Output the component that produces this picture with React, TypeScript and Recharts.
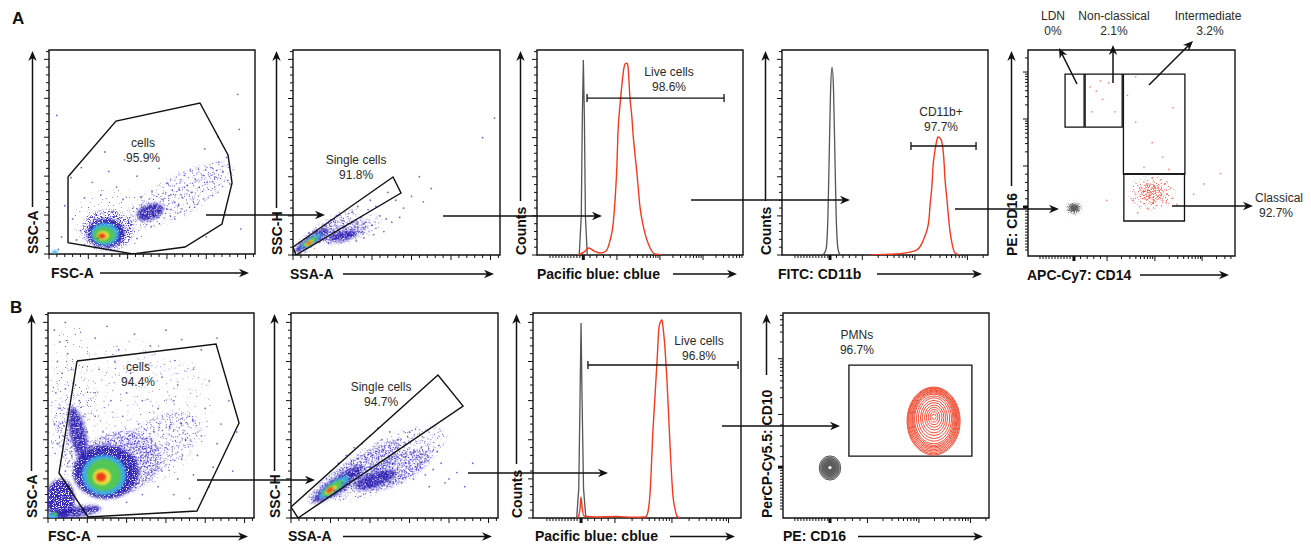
import React from "react";
import { ComposedChart, ScatterChart, Scatter, Line, XAxis, YAxis, ReferenceArea } from "recharts";

const FONT = "'Liberation Sans', Arial, Helvetica, sans-serif";
const INK = "#111";
const BLUE_DOT = "#3b2fc9";
const RED = "#f23a1e";
const GREY = "#555";

// ---------- data: panel A1 (FSC-A / SSC-A, linear 0-262K) ----------
const a1Gate = [[24.2, 99.3], [85.2, 170.8], [192, 193.9], [227.7, 127.1], [232.8, 91.2], [220, 38.5], [173, 9], [106.8, 0], [24.2, 14.5], [24.2, 99.3]];
const a1Density = [
  [166.6, 75.8, 76, 25.7, -28, "sparse"],
  [80, 45, 50, 40, 0, "faint"],
  [75, 30.8, 33, 26, 0, "haze"],
  [128.5, 53.9, 18, 10, -20, "dense"],
  [72.5, 27, 24, 19, 0, "dense"],
  [71.2, 25.7, 17.8, 14, 0, "cyan"],
  [70, 24.4, 14, 10.3, 0, "green"],
  [68.7, 23.8, 7.6, 5.8, 0, "yellow"],
  [67.4, 23.1, 4.5, 3.2, 0, "red"],
  [7.6, 2.6, 3.8, 2.6, 0, "cyan"],
];
const a1Dots = [[45, 12], [52, 40], [58, 8], [88, 45], [95, 15], [100, 32], [40, 30], [82, 55], [60, 50], [105, 42], [112, 20], [35, 18], [30, 45], [118, 60], [124, 48], [135, 62], [140, 47], [145, 70], [150, 58], [155, 76], [160, 66], [166, 82], [170, 72], [176, 88], [181, 79], [186, 96], [191, 86], [196, 101], [201, 92], [206, 111], [211, 99], [216, 118], [221, 106], [226, 124], [117, 73], [131, 81], [151, 91], [172, 101], [45, 72], [55, 92], [66, 76], [76, 106], [86, 86], [96, 121], [41, 111], [71, 131], [12, 6], [16, 22], [242, 160], [244, 32], [200, 22], [10, 178], [240, 205], [130, 35], [160, 45], [185, 60], [208, 75], [230, 90], [28, 98], [20, 62], [112, 100], [140, 110], [198, 135], [215, 150], [94, 70], [62, 20], [75, 8]];

// ---------- panel A2 (SSA-A / SSC-H) ----------
const a2Gate = [[0, 10.2], [126.6, 99.7], [136.7, 79.2], [3.8, 0], [0, 10.2]];
const a2Density = [
  [40, 30, 50, 12, -35, "sparse"],
  [75, 32, 40, 14, -20, "sparse"],
  [31.6, 25.6, 36, 7.7, -35, "haze"],
  [65.8, 29.4, 30, 10.2, -20, "haze"],
  [24, 19.2, 25.3, 5.1, -35, "dense"],
  [63.3, 24.3, 17.7, 5.8, -12, "dense"],
  [22.8, 17.9, 16.5, 3.8, -35, "cyan"],
  [21.5, 16.6, 11.4, 2.9, -35, "green"],
  [20.3, 15.3, 6.3, 2.3, -35, "yellow"],
  [20.3, 15.3, 3.8, 1.7, -35, "red"],
];
const a2Dots = [[40, 38], [48, 45], [55, 50], [62, 44], [70, 40], [78, 36], [85, 48], [92, 42], [100, 38], [110, 50], [118, 46], [75, 55], [88, 30], [95, 58], [105, 62], [130, 70], [140, 60], [160, 100], [175, 85], [30, 30], [35, 20], [45, 15], [80, 18], [90, 22], [52, 30], [115, 30], [125, 42], [68, 28], [58, 22], [150, 75], [255, 175], [240, 150], [20, 28], [14, 10], [102, 26], [135, 48], [165, 68], [120, 80], [98, 70], [82, 62]];

// ---------- panel A3 (Pacific blue histogram, % of max) ----------
const a3Control = [[20.5, 0], [21.5, 20], [22, 70], [22.5, 99.7], [23, 70], [23.5, 20], [24.4, 0]];
const a3Sample = [[19.9, 0], [22.8, 1.5], [25.2, 3.6], [27.7, 2], [30.6, 1], [33.5, 2], [35.4, 7.2], [36.9, 15.3], [37.9, 28.1], [38.8, 46], [39.3, 62.3], [40.3, 76.7], [41.3, 87.9], [42.2, 95.6], [42.7, 97.6], [43.7, 98.1], [44.2, 96.1], [45.1, 80.7], [46.1, 70], [46.6, 62.3], [47.6, 51.1], [48.5, 41.9], [50, 24.5], [51.5, 15.3], [52.4, 11.2], [53.9, 6.1], [54.9, 3.6], [57.3, 0.5], [60.7, 0]];
const a3Gate = [[24.3, 80.2], [90.8, 80.2]];

// ---------- panel A4 (FITC: CD11b histogram) ----------
const a4Control = [[19.9, 0], [21.4, 3], [22.3, 20], [23, 55], [23.6, 85], [24.3, 96], [25, 85], [25.6, 55], [26.3, 20], [27.2, 3], [28.2, 0]];
const a4Sample = [[42.7, 0], [54.9, 0.5], [62.1, 1.5], [65.5, 2.6], [68, 6.1], [69.4, 9.7], [70.4, 12.8], [71.4, 18.9], [71.8, 24.5], [72.8, 35.8], [73.3, 45], [74.3, 53.7], [75.2, 58.8], [75.7, 60.3], [76.7, 59.8], [77.7, 57.2], [78.6, 48.5], [79.1, 39.3], [80.1, 28.1], [80.6, 22], [81.6, 11.8], [82.5, 6.1], [84, 1], [86.4, 0]];
const a4Gate = [[62.6, 55.7], [94.2, 55.7]];

// ---------- panel A5 (APC-Cy7: CD14 / PE: CD16, biex 0-1000) ----------
const a5Boxes = [[179, 271, 626, 883], [276, 455, 626, 883], [461, 758, 398, 883], [463, 756, 170, 398]];
const a5Density = [
  [599, 306, 110, 82, 0, "redsparse"],
  [599, 306, 60, 46, 0, "reddense"],
  [222, 233, 36, 31, 0, "graysparse"],
  [222, 233, 26, 21, 0, "gray"],
  [222, 233, 17, 14, 0, "graysolid"],
];
const a5Dots = [[520, 300], [540, 330], [560, 280], [575, 350], [590, 310], [600, 260], [610, 340], [620, 295], [635, 320], [650, 270], [660, 350], [540, 240], [580, 230], [620, 245], [670, 300], [690, 330], [505, 270], [560, 360], [600, 380], [640, 370], [700, 280], [530, 210], [720, 250], [600, 330], [585, 290], [615, 315], [565, 315], [645, 300], [595, 300], [605, 285], [578, 322], [628, 335], [552, 300], [668, 262], [612, 268], [590, 345], [300, 820], [330, 800], [360, 760], [390, 840], [420, 700], [350, 850], [310, 700], [480, 780], [520, 650], [600, 550], [650, 480], [700, 720], [560, 430], [680, 420], [520, 870], [800, 300], [930, 400], [850, 350], [380, 270]];

// ---------- panel B1 ----------
const b1Gate = [[36.9, 200.6], [213.7, 222.4], [243, 121.4], [189.5, 8.9], [50.9, 1.3], [14, 57.5], [36.9, 200.6]];
const b1Density = [
  [100, 130, 110, 95, -20, "faint"],
  [30, 150, 30, 100, 0, "faint"],
  [140, 95, 60, 32, -30, "sparse"],
  [90, 70, 55, 40, -15, "haze"],
  [38, 108, 10, 34, -12, "dense"],
  [32, 100, 20, 50, -12, "sparse"],
  [16, 24, 18, 26, 0, "dense"],
  [34.3, 7.7, 34, 7, -8, "dense"],
  [73.8, 58.8, 42, 34.5, 0, "dense"],
  [71.2, 55, 28, 25.6, 0, "cyan"],
  [71.2, 55, 21.6, 20.4, 0, "green"],
  [68.7, 52.4, 11.4, 10.2, 0, "yellow"],
  [67.4, 52.4, 6.4, 5.8, 0, "red"],
  [6.4, 2.6, 6.4, 3.8, 0, "cyan"],
  [8.9, 5.1, 3.2, 2.6, 0, "green"],
];
const b1Dots = [[8, 240], [15, 225], [22, 250], [12, 200], [25, 210], [18, 185], [30, 190], [10, 160], [22, 165], [35, 170], [14, 140], [28, 145], [40, 150], [8, 120], [20, 118], [33, 125], [45, 130], [12, 95], [26, 100], [38, 105], [50, 110], [18, 80], [30, 85], [42, 88], [55, 92], [22, 60], [35, 70], [48, 72], [60, 230], [75, 245], [90, 215], [110, 235], [130, 220], [150, 240], [170, 228], [195, 215], [215, 230], [65, 190], [85, 200], [105, 185], [125, 195], [145, 180], [165, 170], [185, 190], [205, 175], [60, 160], [80, 150], [100, 160], [120, 150], [140, 140], [160, 150], [180, 130], [200, 140], [220, 120], [95, 130], [115, 120], [135, 110], [155, 115], [175, 100], [195, 105], [215, 95], [110, 95], [130, 85], [150, 90], [170, 75], [190, 80], [210, 65], [125, 70], [145, 60], [165, 50], [185, 55], [205, 40], [140, 40], [160, 30], [180, 25], [120, 30], [100, 20], [230, 150], [240, 110], [235, 60], [60, 130], [70, 110], [90, 90]];

// ---------- panel B2 ----------
const b2Gate = [[0, 14], [186, 182.8], [217.8, 143.1], [8.9, 0], [0, 14]];
const b2Density = [
  [120, 70, 85, 30, -28, "sparse"],
  [81, 58.8, 69.6, 15.3, -33, "haze"],
  [131.7, 61.3, 50.6, 17.9, -25, "haze"],
  [59.5, 43.5, 38, 8.9, -35, "dense"],
  [106.3, 48.6, 27.8, 8.9, -20, "dense"],
  [54.4, 39.6, 22.8, 6.4, -35, "cyan"],
  [53.2, 38.3, 16.5, 5.1, -35, "green"],
  [50.6, 35.8, 8.9, 3.2, -35, "yellow"],
  [49.4, 35.8, 5.1, 2.6, -35, "red"],
];
const b2Dots = [[60, 70], [70, 80], [80, 90], [90, 95], [100, 105], [110, 115], [75, 60], [95, 75], [115, 85], [120, 60], [130, 70], [140, 80], [150, 65], [160, 75], [170, 55], [180, 62], [190, 70], [200, 50], [210, 58], [140, 45], [155, 50], [125, 45], [105, 55], [85, 50], [65, 45], [115, 100], [125, 110], [135, 100], [145, 95], [165, 90], [175, 40], [195, 45], [220, 40], [230, 70], [100, 40], [45, 50], [50, 60], [55, 35], [150, 110], [185, 85]];

// ---------- panel B3 ----------
const b3Control = [[21, 0], [22, 15], [22.6, 60], [23.1, 99.7], [23.6, 60], [24.3, 15], [25.4, 0]];
const b3Sample = [[21.6, 0], [22.6, 4.6], [23.1, 10.7], [23.6, 5.6], [24.5, 1], [30, 0.5], [40, 0.8], [48, 0.4], [53.8, 0.5], [54.8, 1.5], [56.3, 13.2], [57.7, 45.3], [58.7, 63.1], [59.6, 79.4], [60.6, 97.7], [61.5, 100.7], [62, 101.2], [62.5, 97.7], [63.5, 86], [64.4, 70.7], [65.9, 36.6], [67.3, 11.2], [68.3, 4.6], [69.2, 1], [70.7, 0]];
const b3Gate = [[26.4, 78.2], [98.6, 78.2]];

// ---------- panel B4 (PE: CD16 / PerCP-Cy5.5: CD10 contours) ----------
const b4Box = [320, 917, 302, 746];
const b4PmnRings = [[731, 473, 129, 166], [731, 474, 125, 161], [731, 476, 121, 156], [731, 477, 116, 150], [732, 479, 112, 145], [732, 480, 107, 139], [732, 481, 103, 134], [732, 482, 98, 128], [732, 483, 93, 121], [733, 485, 85, 110], [733, 487, 76, 99], [733, 488, 66, 86], [733, 489, 57, 74], [734, 490, 47, 61], [734, 491, 38, 49], [733, 492, 28, 37], [733, 493, 19, 25], [733, 494, 10, 13]];
const b4CtrlRings = [[228, 244, 52, 59], [228, 244, 45, 51], [228, 245, 38, 43], [228, 245, 31, 35], [228, 246, 24, 27], [228, 246, 17, 19], [228, 246, 10, 12]];

// ---------- figure level annotations ----------
const gateLabels = {
  a1: { x: 119.6, y: 132.3, lines: ["cells", "95.9%"] },
  a2: { x: 79.8, y: 111.2, lines: ["Single cells", "91.8%"] },
  a3: { x: 64.1, y: 89.7, lines: ["Live cells", "98.6%"] },
  a4: { x: 77.2, y: 69.2, lines: ["CD11b+", "97.7%"] },
  b1: { x: 114.5, y: 184, lines: ["cells", "94.4%"] },
  b2: { x: 114, y: 157.8, lines: ["Single cells", "94.7%"] },
  b3: { x: 79.8, y: 86.9, lines: ["Live cells", "96.8%"] },
  b4: { x: 359, y: 856, lines: ["PMNs", "96.7%"] },
};
const figTexts = [
  { x: 12, y: 24, t: "A", size: 17, bold: true, anchor: "start" },
  { x: 10, y: 313, t: "B", size: 17, bold: true, anchor: "start" },
  { x: 1053, y: 19.5, t: "LDN" }, { x: 1053, y: 35, t: "0%" },
  { x: 1114, y: 19.5, t: "Non-classical" }, { x: 1114, y: 35, t: "2.1%" },
  { x: 1208, y: 19.5, t: "Intermediate" }, { x: 1210, y: 35, t: "3.2%" },
  { x: 1279, y: 202, t: "Classical" }, { x: 1276, y: 217, t: "92.7%" },
];
const figArrows = [
  { x: 206, y: 215, dx: 119, dy: 0 }, { x: 443, y: 216, dx: 159, dy: 0 },
  { x: 691, y: 200, dx: 159, dy: 0 }, { x: 955, y: 209, dx: 104, dy: 0 },
  { x: 1077, y: 84, dx: -18, dy: -36 }, { x: 1113, y: 83, dx: 0, dy: -38 },
  { x: 1149, y: 85, dx: 44, dy: -44 }, { x: 1172, y: 206, dx: 81, dy: 0 },
  { x: 197, y: 480, dx: 118, dy: 0 }, { x: 468, y: 473, dx: 140, dy: 0 },
  { x: 722, y: 426, dx: 118, dy: 0 },
];

// ---------- helpers ----------
type Tick = { v: number; k: "major" | "minor" | "zero" };
type Geo = { left: number; top: number; w: number; h: number };

const pts = (a: number[][]) => a.map(([x, y]) => ({ x, y }));
const blobs = (a: any[][]) => a.map(([x, y, rx, ry, ang, lv]) => ({ x, y, rx, ry, ang, lv }));
const rings = (a: number[][]) => a.map(([x, y, rx, ry]) => ({ x, y, rx, ry }));

function linTicks(max: number, major: number, minor: number): Tick[] {
  const out: Tick[] = [];
  for (let i = 0; i * minor <= max; i++) {
    const v = Math.round(i * minor * 1000) / 1000;
    const q = v / major;
    out.push({ v, k: Math.abs(q - Math.round(q)) < 1e-6 ? "major" : "minor" });
  }
  return out;
}

function biexTicks(start: number, negStep: number, zero: number, decades: number[], end: number): Tick[] {
  const out: Tick[] = [];
  for (let v = start; v < zero - negStep * 0.6; v += negStep) out.push({ v, k: "minor" });
  out.push({ v: zero, k: "zero" });
  const gap = (decades[0] - zero) / 5;
  for (let i = 1; i < 5; i++) out.push({ v: zero + gap * i, k: "minor" });
  const span = decades[1] - decades[0];
  decades.forEach((d) => {
    if (d < end) out.push({ v: d, k: "major" });
    for (let k = 2; k < 10; k++) {
      const v = d + Math.log10(k) * span;
      if (v < end) out.push({ v, k: "minor" });
    }
  });
  return out;
}

const LIN = linTicks(262, 50, 10);
const HIST_Y = linTicks(104.8, 20, 4);

// fill, opacity, filter
const LEVELS: Record<string, [string, number, string]> = {
  faint: ["#3a2fc8", 0.8, "url(#speckleFaint)"],
  sparse: ["#3a2fc8", 0.9, "url(#speckleSparse)"],
  haze: ["#3a2fc8", 0.95, "url(#speckleMid)"],
  dense: ["#2a1fb0", 0.95, "url(#speckleDense)"],
  cyan: ["#3cb4e6", 0.92, "url(#soft)"],
  green: ["#52c84e", 0.95, "url(#soft)"],
  yellow: ["#f2e23a", 1, "url(#soft)"],
  red: ["#ea3a1a", 1, "url(#soft)"],
  graysparse: ["#555555", 0.9, "url(#speckleMid)"],
  gray: ["#555555", 0.95, "url(#speckleDense)"],
  graysolid: ["#5a5a5a", 0.95, "url(#soft)"],
  redsparse: ["#f24a3a", 0.8, "url(#speckleSparse)"],
  reddense: ["#f24a3a", 0.8, "url(#speckleMid)"],
};

const AX = 30;
const TOP = 2;
const RIGHT = 3;
const AXH = 32;

function Arrow({ x1, y1, x2, y2 }: { x1: number; y1: number; x2: number; y2: number }) {
  const L = Math.hypot(x2 - x1, y2 - y1) || 1;
  const ux = (x2 - x1) / L, uy = (y2 - y1) / L, nx = -uy, ny = ux;
  const hl = 10, hw = 4.2;
  const bx = x2 - ux * hl, by = y2 - uy * hl;
  const d = `M${x2},${y2} L${bx + nx * hw},${by + ny * hw} L${x2 - ux * (hl - 3)},${y2 - uy * (hl - 3)} L${bx - nx * hw},${by - ny * hw} Z`;
  return (
    <g>
      <line x1={x1} y1={y1} x2={x2 - ux * 5} y2={y2 - uy * 5} stroke={INK} strokeWidth={1.5} />
      <path d={d} fill={INK} />
    </g>
  );
}

function XLab({ g, text, dx, from, base, mid }: any) {
  const bottom = TOP + g.h;
  return (
    <g>
      <text x={AX + dx} y={bottom + base} fontFamily={FONT} fontSize={14} fontWeight="bold" fill={INK}>{text}</text>
      <Arrow x1={AX + from} y1={bottom + mid} x2={AX + g.w - 6} y2={bottom + mid} />
    </g>
  );
}

function YLab({ g, text, from }: any) {
  const x = AX - 16.5;
  const bottom = TOP + g.h;
  return (
    <g>
      <text transform={`translate(${x + 5},${bottom}) rotate(-90)`} fontFamily={FONT} fontSize={14} fontWeight="bold" fill={INK}>{text}</text>
      <Arrow x1={x} y1={bottom - from} x2={x} y2={TOP + 1} />
    </g>
  );
}

const tickFn = (ticks: Tick[], axis: "x" | "y") => {
  const kinds = new Map(ticks.map((t) => [t.v.toFixed(3), t.k]));
  return (p: any) => {
    const k = kinds.get(Number(p.payload.value).toFixed(3)) || "minor";
    const len = k === "minor" ? 3 : 5;
    const sw = k === "zero" ? 3 : 1;
    return axis === "x" ? (
      <line x1={p.x} x2={p.x} y1={p.y} y2={p.y + len} stroke={INK} strokeWidth={sw} />
    ) : (
      <line x1={p.x} x2={p.x - len} y1={p.y} y2={p.y} stroke={INK} strokeWidth={sw} />
    );
  };
};

const dotShape = (fill: string, op: number, r = 0.9) => (p: any) => <circle cx={p.cx} cy={p.cy} r={r} fill={fill} fillOpacity={op} />;
const none = () => <g />;

const blobShape = (kx: number, ky: number) => (p: any) => {
  const b = p.payload;
  const [fill, op, filter] = LEVELS[b.lv];
  return (
    <g transform={b.ang ? `rotate(${b.ang} ${p.cx} ${p.cy})` : undefined}>
      <ellipse cx={p.cx} cy={p.cy} rx={b.rx * kx} ry={b.ry * ky} fill={fill} fillOpacity={op} filter={filter} />
    </g>
  );
};

const ringShape = (kx: number, ky: number, stroke: string, solid: boolean) => (p: any) => {
  const b = p.payload;
  return (
    <g>
      <ellipse cx={p.cx} cy={p.cy} rx={b.rx * kx} ry={b.ry * ky} fill={solid ? stroke : "none"} fillOpacity={solid ? 0.45 : 0} stroke={stroke} strokeWidth={1} />
      {b.rx < 13 ? <circle cx={p.cx} cy={p.cy} r={1.6} fill="#fff" /> : null}
    </g>
  );
};

const labelShape = (p: any) => {
  const lines: string[] = p.payload.lines;
  return (
    <g>
      {lines.map((t, i) => (
        <text key={i} x={p.cx} y={p.cy - 3.5 + i * 15} textAnchor="middle" fontFamily={FONT} fontSize={12} fill="#2a2a2a">{t}</text>
      ))}
    </g>
  );
};

const capShape = (p: any) => <line x1={p.cx} x2={p.cx} y1={p.cy - 4} y2={p.cy + 4} stroke={INK} strokeWidth={1.3} />;

type PanelProps = {
  g: Geo;
  xDom: number[];
  yDom: number[];
  xTicks: Tick[];
  yTicks: Tick[];
  xLabel: any;
  yLabel: any;
  children: any;
};

function Panel({ g, xDom, yDom, xTicks, yTicks, xLabel, yLabel, children }: PanelProps) {
  const width = AX + g.w + RIGHT;
  const height = TOP + g.h + AXH;
  return (
    <div style={{ position: "absolute", left: g.left - AX, top: g.top - TOP }}>
      <ComposedChart width={width} height={height} margin={{ top: TOP, right: RIGHT, bottom: 0, left: 0 }}>
        <XAxis type="number" dataKey="x" domain={xDom} allowDataOverflow ticks={xTicks.map((t) => t.v)} interval={0}
          tick={tickFn(xTicks, "x")} tickLine={false} axisLine={false} tickSize={0} tickMargin={0} height={AXH} label={xLabel} />
        <YAxis type="number" dataKey="y" domain={yDom} allowDataOverflow ticks={yTicks.map((t) => t.v)} interval={0}
          tick={tickFn(yTicks, "y")} tickLine={false} axisLine={false} tickSize={0} tickMargin={0} width={AX} label={yLabel} />
        {children}
        <ReferenceArea x1={xDom[0]} x2={xDom[1]} y1={yDom[0]} y2={yDom[1]} fill="none" fillOpacity={0} stroke={INK} strokeWidth={1.4} strokeOpacity={1} />
      </ComposedChart>
    </div>
  );
}

const GEO: Record<string, Geo> = {
  a1: { left: 49, top: 50, w: 206, h: 204 },
  a2: { left: 293, top: 50, w: 207, h: 205 },
  a3: { left: 537, top: 50, w: 206, h: 205 },
  a4: { left: 782, top: 50, w: 206, h: 205 },
  a5: { left: 1028, top: 50, w: 207, h: 206 },
  b1: { left: 48, top: 313, w: 206, h: 205 },
  b2: { left: 291, top: 313, w: 207, h: 205 },
  b3: { left: 533, top: 313, w: 208, h: 205 },
  b4: { left: 783, top: 313, w: 206, h: 205 },
};

const LIN_DOM = [0, 262];
const HX_DOM = [0, 100];
const HY_DOM = [0, 104.8];
const LOG_DOM = [0, 1000];

function ScatterPanel({ id, gate, density, dots, xl, yl, xdx, xfrom, yfrom, rowB }: any) {
  const g = GEO[id];
  const kx = g.w / 262, ky = g.h / 262;
  return (
    <Panel g={g} xDom={LIN_DOM} yDom={LIN_DOM} xTicks={LIN} yTicks={LIN}
      xLabel={<XLab g={g} text={xl} dx={xdx} from={xfrom} base={rowB ? 23 : 24} mid={rowB ? 18.5 : 19} />}
      yLabel={<YLab g={g} text={yl} from={yfrom} />}>
      <Scatter data={blobs(density)} shape={blobShape(kx, ky)} isAnimationActive={false} />
      <Scatter data={pts(dots)} shape={dotShape(BLUE_DOT, 0.7)} isAnimationActive={false} />
      <Scatter data={pts(gate)} line={{ stroke: INK, strokeWidth: 1.4 }} lineType="joint" shape={none} fill="none" isAnimationActive={false} />
      <Scatter data={[gateLabels[id as keyof typeof gateLabels]]} shape={labelShape} isAnimationActive={false} />
    </Panel>
  );
}

function HistPanel({ id, control, sample, gate, xTicks, xl, xdx, xfrom, rowB, sharpControl }: any) {
  const g = GEO[id];
  return (
    <Panel g={g} xDom={HX_DOM} yDom={HY_DOM} xTicks={xTicks} yTicks={HIST_Y}
      xLabel={<XLab g={g} text={xl} dx={xdx} from={xfrom} base={rowB ? 23 : 24} mid={rowB ? 18.5 : 19} />}
      yLabel={<YLab g={g} text="Counts" from={54} />}>
      <Line data={pts(control)} dataKey="y" type={sharpControl ? "linear" : "monotone"} stroke={GREY} strokeWidth={1.3} dot={false} isAnimationActive={false} />
      <Line data={pts(sample)} dataKey="y" type="monotone" stroke={RED} strokeWidth={1.4} dot={false} isAnimationActive={false} />
      <Scatter data={pts(gate)} line={{ stroke: INK, strokeWidth: 1.4 }} lineType="joint" shape={capShape} isAnimationActive={false} />
      <Scatter data={[gateLabels[id as keyof typeof gateLabels]]} shape={labelShape} isAnimationActive={false} />
    </Panel>
  );
}

function MonocytePanel() {
  const g = GEO.a5;
  const kx = g.w / 1000, ky = g.h / 1000;
  const xT = biexTicks(58, 14.5, 222, [382, 613, 841], 1000);
  const yT = biexTicks(29, 14.5, 238, [437, 665, 893], 1000);
  return (
    <Panel g={g} xDom={LOG_DOM} yDom={LOG_DOM} xTicks={xT} yTicks={yT}
      xLabel={<XLab g={g} text="APC-Cy7: CD14" dx={-1} from={112} base={24} mid={19} />}
      yLabel={<YLab g={g} text="PE: CD16" from={70} />}>
      <Scatter data={blobs(a5Density)} shape={blobShape(kx, ky)} isAnimationActive={false} />
      <Scatter data={pts(a5Dots)} shape={dotShape("#f04a3a", 0.6, 0.9)} isAnimationActive={false} />
      {a5Boxes.map((b, i) => (
        <ReferenceArea key={i} x1={b[0]} x2={b[1]} y1={b[2]} y2={b[3]} fill="none" fillOpacity={0} stroke={INK} strokeWidth={1.3} strokeOpacity={1} />
      ))}
    </Panel>
  );
}

function PmnPanel() {
  const g = GEO.b4;
  const kx = g.w / 1000, ky = g.h / 1000;
  const xT = biexTicks(58, 14.5, 228, [410, 660, 910], 1000);
  const yT = biexTicks(44, 14.5, 248, [505, 777], 1000);
  return (
    <Panel g={g} xDom={LOG_DOM} yDom={LOG_DOM} xTicks={xT} yTicks={yT}
      xLabel={<XLab g={g} text="PE: CD16" dx={0} from={75} base={23} mid={18.5} />}
      yLabel={<YLab g={g} text="PerCP-Cy5.5: CD10" from={143} />}>
      <Scatter data={rings(b4CtrlRings)} shape={ringShape(kx, ky, "#5a5a5a", true)} isAnimationActive={false} />
      <Scatter data={rings(b4PmnRings)} shape={ringShape(kx, ky, "#f24e35", false)} isAnimationActive={false} />
      <ReferenceArea x1={b4Box[0]} x2={b4Box[1]} y1={b4Box[2]} y2={b4Box[3]} fill="none" fillOpacity={0} stroke={INK} strokeWidth={1.3} strokeOpacity={1} />
      <Scatter data={[gateLabels.b4]} shape={labelShape} isAnimationActive={false} />
    </Panel>
  );
}

const figTextShape = (p: any) => {
  const d = p.payload;
  return (
    <text x={p.cx} y={p.cy} textAnchor={d.anchor || "middle"} fontFamily={FONT} fontSize={d.size || 12}
      fontWeight={d.bold ? "bold" : "normal"} fill={d.bold ? INK : "#2a2a2a"}>{d.t}</text>
  );
};
const figArrowShape = (p: any) => <Arrow x1={p.cx} y1={p.cy} x2={p.cx + p.payload.dx} y2={p.cy + p.payload.dy} />;

function Overlay() {
  return (
    <div style={{ position: "absolute", left: 0, top: 0, zIndex: 5, pointerEvents: "none" }}>
      <ScatterChart width={1311} height={547} margin={{ top: 0, right: 0, bottom: 0, left: 0 }}>
        <XAxis type="number" dataKey="x" domain={[0, 1311]} hide />
        <YAxis type="number" dataKey="y" domain={[0, 547]} reversed hide />
        <Scatter data={figArrows} shape={figArrowShape} isAnimationActive={false} />
        <Scatter data={figTexts} shape={figTextShape} isAnimationActive={false} />
      </ScatterChart>
    </div>
  );
}

function speckle(id: string, gain: number, offset: number, seed: number) {
  return (
    <filter id={id} x="-20%" y="-20%" width="140%" height="140%">
      <feTurbulence type="fractalNoise" baseFrequency="0.85" numOctaves="1" seed={seed} result="noise" />
      <feColorMatrix in="noise" type="matrix" values={`0 0 0 0 0  0 0 0 0 0  0 0 0 0 0  ${gain} 0 0 0 ${offset}`} result="mask" />
      <feGaussianBlur in="SourceGraphic" stdDeviation="1.5" result="src" />
      <feComposite in="src" in2="mask" operator="in" />
    </filter>
  );
}

export default function App() {
  return (
    <div style={{ position: "absolute", left: 0, top: 0, width: 1311, height: 547, background: "#fff", fontFamily: FONT }}>
      <svg width={0} height={0} style={{ position: "absolute" }}>
        <defs>
          <filter id="soft" x="-50%" y="-50%" width="200%" height="200%">
            <feGaussianBlur stdDeviation="1.3" />
          </filter>
          {speckle("speckleFaint", 18, -12.4, 5)}
          {speckle("speckleSparse", 14, -8.6, 3)}
          {speckle("speckleMid", 10, -5.2, 7)}
          {speckle("speckleDense", 8, -2.8, 11)}
        </defs>
      </svg>
      <ScatterPanel id="a1" gate={a1Gate} density={a1Density} dots={a1Dots} xl="FSC-A" yl="SSC-A" xdx={2} xfrom={51} yfrom={47} />
      <ScatterPanel id="a2" gate={a2Gate} density={a2Density} dots={a2Dots} xl="SSA-A" yl="SSC-H" xdx={-3} xfrom={50} yfrom={47} />
      <HistPanel id="a3" control={a3Control} sample={a3Sample} gate={a3Gate} xTicks={biexTicks(6.3, 1.45, 22.5, [38.8, 59.7, 80.6], 100)}
        xl="Pacific blue: cblue" xdx={0} xfrom={136} sharpControl />
      <HistPanel id="a4" control={a4Control} sample={a4Sample} gate={a4Gate} xTicks={biexTicks(6.3, 1.45, 23.3, [39, 64.5, 90], 100)}
        xl="FITC: CD11b" xdx={-4} xfrom={95} />
      <MonocytePanel />
      <ScatterPanel id="b1" gate={b1Gate} density={b1Density} dots={b1Dots} xl="FSC-A" yl="SSC-A" xdx={0} xfrom={49} yfrom={47} rowB />
      <ScatterPanel id="b2" gate={b2Gate} density={b2Density} dots={b2Dots} xl="SSA-A" yl="SSC-H" xdx={-3} xfrom={52} yfrom={47} rowB />
      <HistPanel id="b3" control={b3Control} sample={b3Sample} gate={b3Gate} xTicks={biexTicks(6.7, 1.45, 23.1, [39.4, 66.8, 94], 100)}
        xl="Pacific blue: cblue" xdx={2} xfrom={137} rowB sharpControl />
      <PmnPanel />
      <Overlay />
    </div>
  );
}
